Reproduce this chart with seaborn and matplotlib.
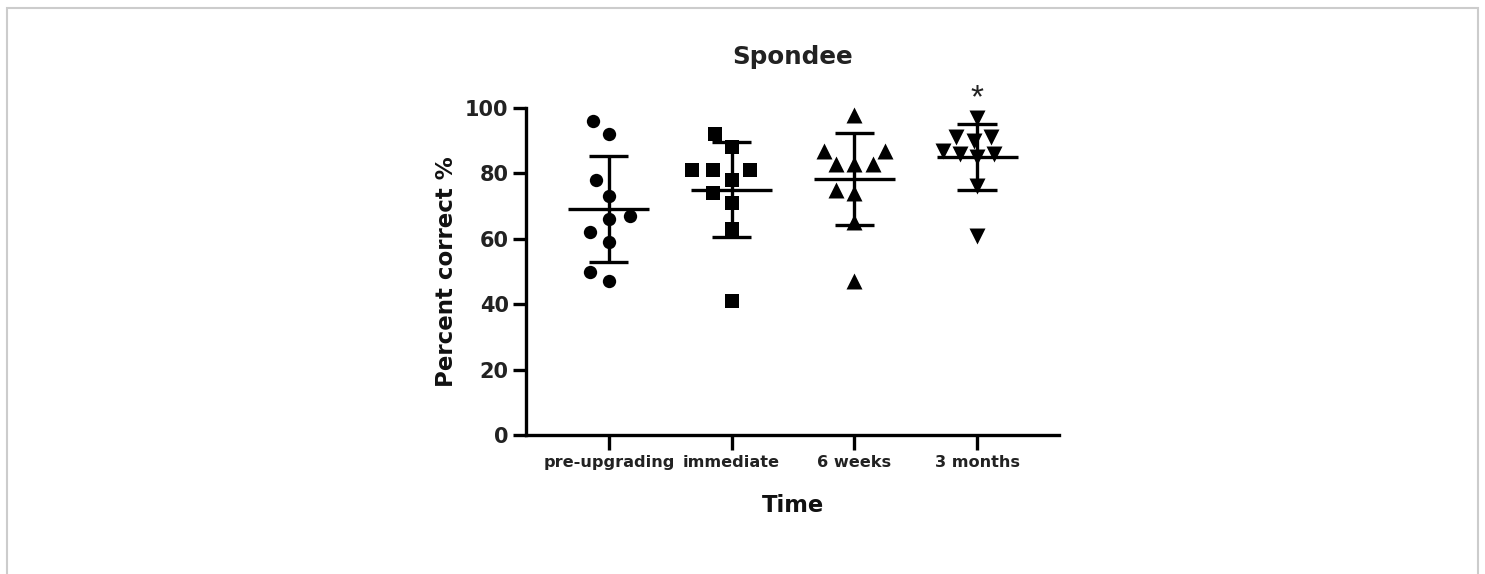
import matplotlib
matplotlib.use("Agg")
import matplotlib.pyplot as plt
import pandas as pd
import seaborn as sns

# data
categories = ["pre-upgrading", "immediate", "6 weeks", "3 months"]
pre_upgrading = [96, 92, 78, 73, 67, 66, 62, 59, 50, 47]
immediate = [92, 88, 81, 81, 81, 78, 74, 71, 63, 41]
six_weeks = [98, 87, 87, 83, 83, 83, 75, 74, 65, 47]
three_months = [97, 91, 91, 90, 87, 86, 86, 85, 76, 61]
markers = ["o", "s", "^", "v"]
marker_sizes = [9.6, 9.4, 11.5, 11.5]
# marker sizes used only to lay out the swarm (GraphPad-like spacing)
spread_sizes = [14.5, 14.5, 12.5, 12.0]

df = pd.concat(
    [
        pd.DataFrame({"time": cat, "score": vals})
        for cat, vals in zip(categories, [pre_upgrading, immediate, six_weeks, three_months])
    ],
    ignore_index=True,
)
summary = df.groupby("time", sort=False)["score"].agg(["mean", "std"]).reindex(categories)

sns.set_style("white")
plt.rcParams["font.family"] = ["DejaVu Sans"]

fig = plt.figure(figsize=(14.85, 5.74), dpi=100)
ax = fig.add_axes([526 / 1485, 139 / 574, 533 / 1485, 327 / 574])

group_colls = []
for cat, m, sp in zip(categories, markers, spread_sizes):
    n_before = len(ax.collections)
    sns.swarmplot(
        data=df[df["time"] == cat], x="time", y="score", order=categories,
        marker=m, color="black", size=sp, linewidth=0, ax=ax, clip_on=False, zorder=3,
    )
    group_colls.append(ax.collections[n_before:])

ax.set_xlim(-0.675, 3.668)
ax.set_ylim(0, 100)

# let the swarm lay out with the wide spacing, then freeze it and shrink the markers
fig.canvas.draw()
for colls, s in zip(group_colls, marker_sizes):
    for coll in colls:
        coll.__dict__.pop("draw", None)
        coll.set_sizes([s ** 2])

lw = 2.4
for i, cat in enumerate(categories):
    mu, sd = summary.loc[cat, "mean"], summary.loc[cat, "std"]
    ax.hlines(mu, i - 0.33, i + 0.33, color="black", lw=lw, zorder=4)
    ax.vlines(i, mu - sd, mu + sd, color="black", lw=lw, zorder=4)
    ax.hlines([mu - sd, mu + sd], i - 0.16, i + 0.16, color="black", lw=lw, zorder=4)

ax.text(3, 98, "*", ha="center", va="bottom", fontsize=24, color="#222222",
        family="Liberation Sans")

ax.set_yticks([0, 20, 40, 60, 80, 100])
sns.despine(ax=ax)
for side in ["left", "bottom"]:
    ax.spines[side].set_linewidth(lw)
    ax.spines[side].set_color("black")
ax.tick_params(axis="both", which="both", direction="out", width=lw, color="black",
               left=True, bottom=True)
ax.tick_params(axis="y", length=9.5, labelsize=15, pad=3)
ax.tick_params(axis="x", length=10.5, labelsize=11.6, pad=4)
for lab in ax.get_xticklabels() + ax.get_yticklabels():
    lab.set_fontweight("bold")
    lab.set_color("#222222")

ax.set_xlabel("Time", fontsize=16.3, fontweight="bold", labelpad=17, color="#111111")
ax.set_ylabel("Percent correct %", fontsize=16.5, fontweight="bold", labelpad=5, color="#111111")
fig.text(793 / 1485, 1 - 57 / 574, "Spondee", ha="center", va="center", fontsize=17.7,
         fontweight="bold", color="#222222")

# light frame around the panel
frame = plt.Rectangle((7 / 1485, -0.05), 1471 / 1485, 1.05 - 8 / 574, transform=fig.transFigure,
                      fill=False, edgecolor="#cccccc", lw=1.5)
fig.patches.append(frame)

fig.savefig("out.png", dpi=100)
